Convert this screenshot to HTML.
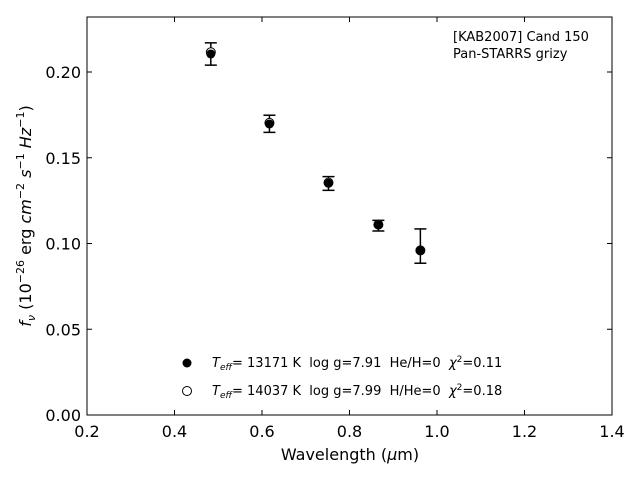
<!DOCTYPE html>
<html><head><meta charset="utf-8"><style>
body{margin:0;background:#fff;}
svg text{font-family:"DejaVu Sans","Liberation Sans",sans-serif;fill:#000;white-space:pre;}
</style></head><body>
<svg id="chart" width="640" height="480" xmlns="http://www.w3.org/2000/svg" xml:space="preserve">
<rect x="87" y="17" width="525" height="398" fill="none" stroke="#000" stroke-width="1"/>
<g id="axes"></g>
<g id="marks"></g>
<text x="350" y="460" font-size="16" text-anchor="middle">Wavelength (<tspan font-style="italic">μ</tspan>m)</text>
<text transform="translate(31,216) rotate(-90)" font-size="16" text-anchor="middle"><tspan font-style="italic">f<tspan font-size="11" dy="4">ν</tspan></tspan><tspan dy="-4"> (10</tspan><tspan font-size="11" dy="-7">−26</tspan><tspan dy="7"> erg </tspan><tspan font-style="italic">cm</tspan><tspan font-size="11" dy="-7">−2</tspan><tspan dy="7"> </tspan><tspan font-style="italic">s</tspan><tspan font-size="11" dy="-7">−1</tspan><tspan dy="7"> </tspan><tspan font-style="italic">Hz</tspan><tspan font-size="11" dy="-7">−1</tspan><tspan dy="7">)</tspan></text>
<text x="453" y="41" font-size="13">[KAB2007] Cand 150</text>
<text x="453" y="58" font-size="13">Pan-STARRS grizy</text>
<g>
<circle cx="187" cy="363" r="4.5" fill="#000"/>
<text x="212" y="367" font-size="13"><tspan font-style="italic">T<tspan font-size="9" dy="3">eff</tspan></tspan><tspan dy="-3">= 13171 K  log g=7.91  He/H=0  </tspan><tspan font-style="italic">χ</tspan><tspan font-size="9" dy="-5">2</tspan><tspan dy="5">=0.11</tspan></text>
<circle cx="187" cy="391" r="4.5" fill="#fff" stroke="#000"/>
<text x="212" y="395" font-size="13"><tspan font-style="italic">T<tspan font-size="9" dy="3">eff</tspan></tspan><tspan dy="-3">= 14037 K  log g=7.99  H/He=0  </tspan><tspan font-style="italic">χ</tspan><tspan font-size="9" dy="-5">2</tspan><tspan dy="5">=0.18</tspan></text>
</g>
</svg>
<script>
const wavelengths = [0.483, 0.617, 0.752, 0.866, 0.962];
const observedFlux = [0.2105, 0.1698, 0.1350, 0.1104, 0.0985];
const fluxErrors = [0.0065, 0.0050, 0.0040, 0.0031, 0.0100];
const modelHeFlux = [0.2105, 0.1697, 0.1351, 0.1108, 0.0958];
const modelHFlux = [0.2115, 0.1703, 0.1355, 0.1110, 0.0960];
const xTicks = [0.2, 0.4, 0.6, 0.8, 1.0, 1.2, 1.4];
const xTickLabels = ["0.2","0.4","0.6","0.8","1.0","1.2","1.4"];
const yTicks = [0, 0.05, 0.10, 0.15, 0.20];
const yTickLabels = ["0.00","0.05","0.10","0.15","0.20"];

const L=87,R=612,T=17,B=415;
const xS=v=>L+(v-0.2)/1.2*(R-L);
const yS=v=>B-v*1715;
const NS="http://www.w3.org/2000/svg";
function mk(tag,attrs,parent){const e=document.createElementNS(NS,tag);for(const k in attrs)e.setAttribute(k,attrs[k]);parent.appendChild(e);return e;}
const axes=document.getElementById('axes'), marks=document.getElementById('marks');
xTicks.forEach((v,i)=>{const x=xS(v);
 let t=mk('line',{x1:x,x2:x,y1:B,y2:B-5,stroke:'#000'},axes);
 
 
 let t2=mk('line',{x1:x,x2:x,y1:T,y2:T+5,stroke:'#000'},axes);
 
 
 let l=mk('text',{x:x,y:B+22,'font-size':16,'text-anchor':'middle'},axes);l.textContent=xTickLabels[i];
 
 
});
yTicks.forEach((v,i)=>{const y=yS(v);
 let t=mk('line',{x1:L,x2:L+5,y1:y,y2:y,stroke:'#000'},axes);
 
 
 let t2=mk('line',{x1:R,x2:R-5,y1:y,y2:y,stroke:'#000'},axes);
 
 
 let l=mk('text',{x:L-6,y:y+6,'font-size':16,'text-anchor':'end'},axes);l.textContent=yTickLabels[i];
 
 
});
wavelengths.forEach((w,i)=>{const x=xS(w);
 const g=mk('g',{},marks);
 
 
 const yt=yS(observedFlux[i]+fluxErrors[i]), yb=yS(observedFlux[i]-fluxErrors[i]);
 mk('line',{x1:x,x2:x,y1:yt,y2:yb,stroke:'#000','stroke-width':1.5},g);
 mk('line',{x1:x-6,x2:x+6,y1:yt,y2:yt,stroke:'#000','stroke-width':1.5},g);
 mk('line',{x1:x-6,x2:x+6,y1:yb,y2:yb,stroke:'#000','stroke-width':1.5},g);
 const o=mk('circle',{cx:x,cy:yS(modelHFlux[i]),r:4.5,fill:'#fff',stroke:'#000'},marks);
 
 
 const f=mk('circle',{cx:x,cy:yS(modelHeFlux[i]),r:4.5,fill:'#000'},marks);
 
 
});
</script>
</body></html>
